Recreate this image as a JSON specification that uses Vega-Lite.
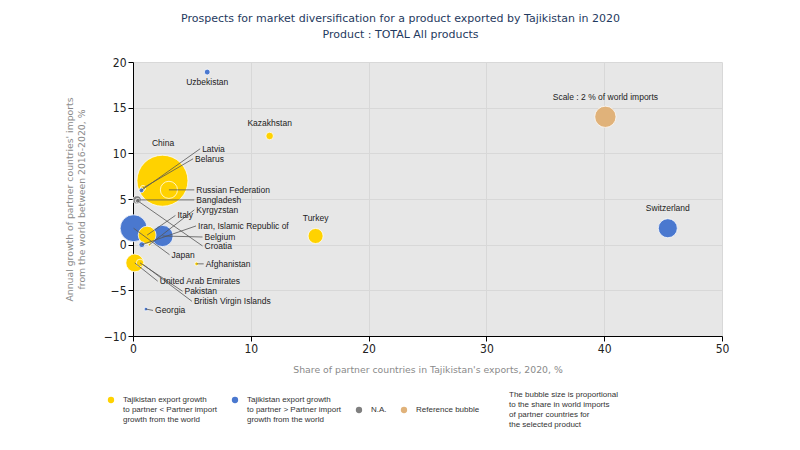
{
  "$schema": "https://vega.github.io/schema/vega-lite/v6.json",
  "width": 589,
  "height": 274,
  "autosize": {"type": "none"},
  "padding": {"left": 133, "top": 62, "right": 78, "bottom": 114},
  "background": "white",
  "title": {
    "text": ["Prospects for market diversification for a product exported by Tajikistan in 2020", "Product : TOTAL All products"],
    "color": "#1F3A60", "fontSize": 11, "fontWeight": "normal", "font": "DejaVu Sans",
    "anchor": "middle", "dx": -27, "offset": 16, "lineHeight": 16
  },
  "config": {
    "view": {"stroke": null, "fill": "#E7E7E7"},
    "font": "Liberation Sans",
    "axis": {
      "domainColor": "#000", "tickColor": "#000", "gridColor": "#D8D8D8", "labelFlush": false,
      "labelColor": "#222", "labelFontSize": 12, "labelFont": "Liberation Sans Narrow, DejaVu Sans Condensed, Liberation Sans",
      "titleColor": "#8A8A8A", "titleFontSize": 9.3, "titleFontWeight": "normal", "titleFont": "DejaVu Sans"
    }
  },
  "data": {"values": [
    {"name": "China", "x": 2.5, "y": 7.0, "share": 11.5, "group": "lower", "label": "center", "lx": 2.55, "ly": 11.1},
    {"name": "Japan", "x": 0.05, "y": 1.8, "share": 3.2, "group": "higher", "label": "line", "lx": 3.1, "ly": -1.1},
    {"name": "Belgium", "x": 2.5, "y": 0.95, "share": 2.0, "group": "higher", "label": "line", "lx": 5.9, "ly": 0.84},
    {"name": "Scale : 2 % of world imports", "x": 40.1, "y": 14.0, "share": 2.0, "group": "ref", "label": "center", "lx": 40.1, "ly": 16.2},
    {"name": "Switzerland", "x": 45.4, "y": 1.8, "share": 1.6, "group": "higher", "label": "center", "lx": 45.4, "ly": 4.0},
    {"name": "Italy", "x": 1.2, "y": 1.05, "share": 1.4, "group": "lower", "label": "line", "lx": 3.6, "ly": 3.2},
    {"name": "United Arab Emirates", "x": 0.15, "y": -2.0, "share": 1.4, "group": "lower", "label": "line", "lx": 2.1, "ly": -4.0},
    {"name": "Russian Federation", "x": 3.05, "y": 6.0, "share": 1.3, "group": "lower", "label": "line", "lx": 5.2, "ly": 6.0},
    {"name": "Turkey", "x": 15.5, "y": 0.95, "share": 1.0, "group": "lower", "label": "center", "lx": 15.5, "ly": 2.9},
    {"name": "Bangladesh", "x": 0.35, "y": 4.9, "share": 0.3, "group": "na", "label": "line", "lx": 5.2, "ly": 4.9},
    {"name": "Kazakhstan", "x": 11.6, "y": 11.9, "share": 0.25, "group": "lower", "label": "center", "lx": 11.6, "ly": 13.3},
    {"name": "Pakistan", "x": 0.6, "y": -2.0, "share": 0.25, "group": "lower", "label": "line", "lx": 4.2, "ly": -5.1},
    {"name": "Uzbekistan", "x": 6.3, "y": 18.9, "share": 0.15, "group": "higher", "label": "center", "lx": 6.3, "ly": 17.8},
    {"name": "Iran, Islamic Republic of", "x": 0.75, "y": 0.0, "share": 0.15, "group": "higher", "label": "line", "lx": 5.35, "ly": 2.05},
    {"name": "Belarus", "x": 0.85, "y": 6.2, "share": 0.12, "group": "lower", "label": "line", "lx": 5.1, "ly": 9.4},
    {"name": "Latvia", "x": 0.72, "y": 5.95, "share": 0.1, "group": "higher", "label": "line", "lx": 5.7, "ly": 10.5},
    {"name": "Croatia", "x": 0.4, "y": 4.8, "share": 0.1, "group": "na", "label": "line", "lx": 5.9, "ly": -0.14},
    {"name": "Georgia", "x": 1.1, "y": -7.05, "share": 0.06, "group": "higher", "label": "line", "lx": 1.7, "ly": -7.2},
    {"name": "Afghanistan", "x": 5.4, "y": -2.1, "share": 0.06, "group": "lower", "label": "line", "lx": 6.0, "ly": -2.1},
    {"name": "Kyrgyzstan", "x": 1.4, "y": 0.0, "share": 0.03, "group": "lower", "label": "line", "lx": 5.2, "ly": 3.8},
    {"name": "British Virgin Islands", "x": 0.9, "y": -2.2, "share": 0.02, "group": "lower", "label": "line", "lx": 5.0, "ly": -6.2}
  ]},
  "encoding": {
    "x": {"field": "x", "type": "quantitative",
      "scale": {"domain": [0, 50], "nice": false, "zero": false},
      "axis": {"values": [0, 10, 20, 30, 40, 50], "title": "Share of partner countries in Tajikistan's exports, 2020, %", "titlePadding": 11, "tickSize": 5}},
    "y": {"field": "y", "type": "quantitative",
      "scale": {"domain": [-10, 20], "nice": false, "zero": false},
      "axis": {"values": [-10, -5, 0, 5, 10, 15, 20], "title": ["Annual growth of partner countries' imports", "from the world between 2016-2020, %"], "titlePadding": 17, "tickSize": 5}}
  },
  "layer": [
    {
      "mark": {"type": "circle", "opacity": 1, "stroke": "#ffffff", "strokeWidth": 1, "strokeOpacity": 0.75, "clip": false},
      "encoding": {
        "size": {"field": "share", "type": "quantitative", "scale": {"type": "linear", "domain": [0, 2], "range": [0, 452], "zero": true}, "legend": null},
        "color": {"field": "group", "type": "nominal",
          "scale": {"domain": ["lower", "higher", "na", "ref", "note"], "range": ["#FFD200", "#4A78CF", "#7F7F7F", "#E0B27A", "rgba(0,0,0,0)"]},
          "legend": {
            "orient": "none", "legendX": -26, "legendY": 329, "direction": "horizontal", "columns": 5,
            "columnPadding": 13, "title": null, "symbolType": "circle", "symbolSize": 40, "symbolStrokeWidth": 0,
            "labelOffset": 8,
            "labelFontSize": 8, "labelColor": "#333", "labelFont": "Liberation Sans", "labelLimit": 200,
            "labelExpr": "datum.value == 'lower' ? ['Tajikistan export growth', 'to partner < Partner import', 'growth from the world'] : datum.value == 'higher' ? ['Tajikistan export growth', 'to partner > Partner import', 'growth from the world'] : datum.value == 'na' ? 'N.A.' : datum.value == 'ref' ? 'Reference bubble' : ['The bubble size is proportional', 'to the share in world imports', 'of partner countries for', 'the selected product']",
            "encode": {
              "labels": {
                "lineHeight": {"value": 10.5}
              }
            }
          }
        }
      }
    },
    {
      "transform": [{"filter": "datum.label == 'line'"}],
      "mark": {"type": "rule", "color": "#555555", "strokeWidth": 0.8},
      "encoding": {"x2": {"field": "lx"}, "y2": {"field": "ly"}}
    },
    {
      "transform": [{"filter": "datum.label == 'line'"}],
      "mark": {"type": "text", "align": "left", "baseline": "middle", "dx": 2, "fontSize": 8.5, "color": "#222"},
      "encoding": {
        "x": {"field": "lx", "type": "quantitative"},
        "y": {"field": "ly", "type": "quantitative"},
        "text": {"field": "name"}
      }
    },
    {
      "transform": [{"filter": "datum.label == 'center'"}],
      "mark": {"type": "text", "align": "center", "baseline": "middle", "fontSize": 8.5, "color": "#222"},
      "encoding": {
        "x": {"field": "lx", "type": "quantitative"},
        "y": {"field": "ly", "type": "quantitative"},
        "text": {"field": "name"}
      }
    }
  ]
}
